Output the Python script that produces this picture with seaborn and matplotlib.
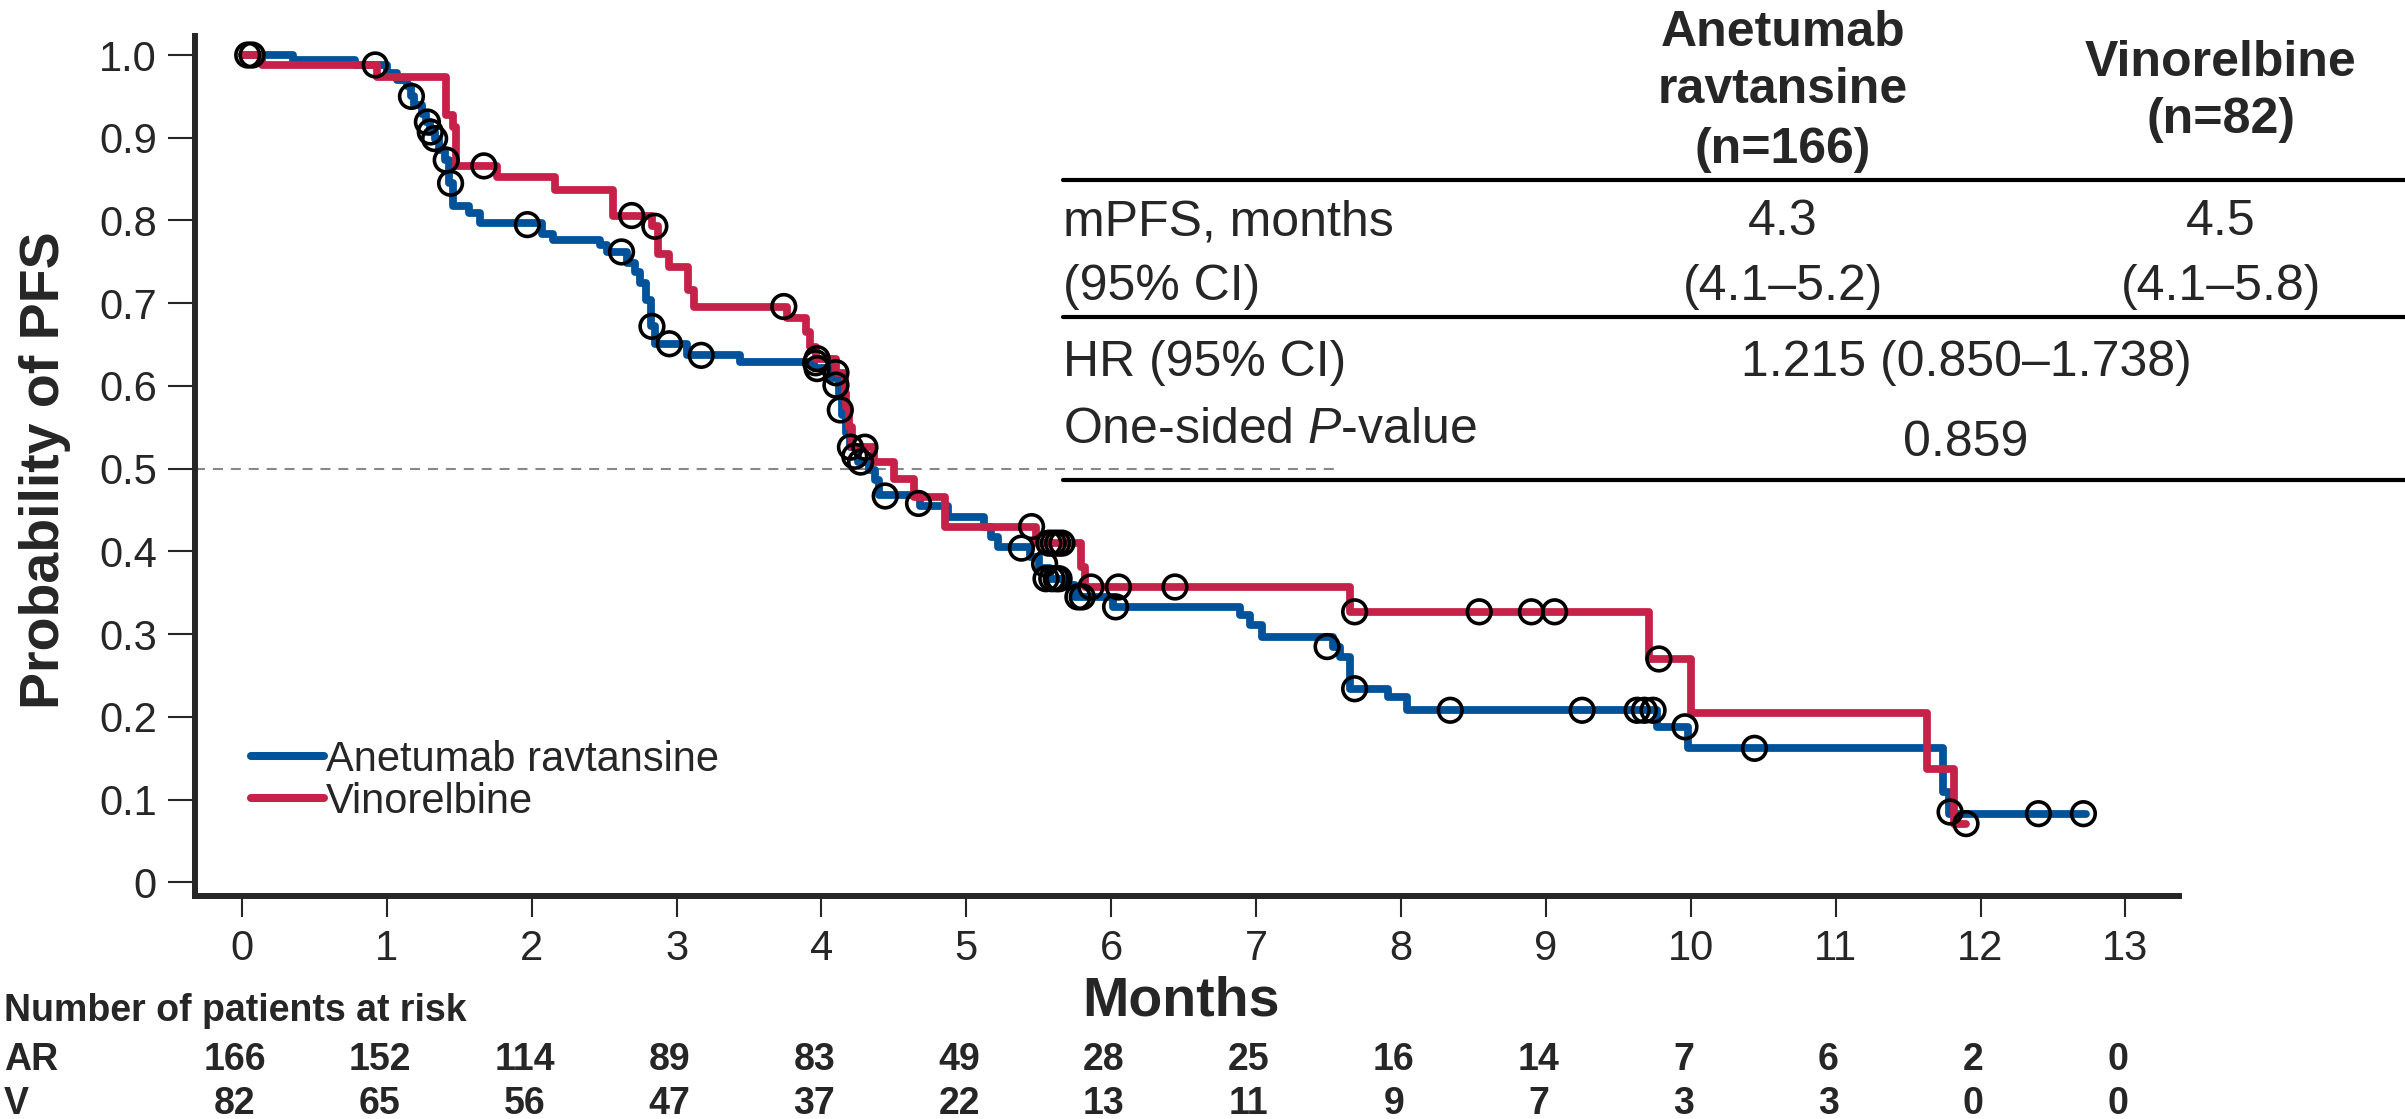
"""
Kaplan-Meier PFS: anetumab ravtansine vs vinorelbine, with a summary table
and the number-at-risk rows under the axis.
"""

import numpy as np
import pandas as pd
import matplotlib
matplotlib.use("Agg")
import matplotlib.pyplot as plt
import matplotlib.transforms as mtransforms
from matplotlib.lines import Line2D
import seaborn as sns

# ── data ─────────────────────────────────────────────────────────────────────

ARMS = ["Anetumab ravtansine", "Vinorelbine"]

# step curves (time in months, survival after each drop)
AR_T = [0, 0.35, 0.78, 1.00, 1.07, 1.14, 1.17, 1.19, 1.24, 1.27,
        1.30, 1.33, 1.36, 1.40, 1.43, 1.46, 1.57, 1.64, 2.07, 2.15,
        2.47, 2.52, 2.66, 2.71, 2.75, 2.79, 2.82, 2.85, 3.07, 3.44,
        3.95, 4.07, 4.12, 4.14, 4.17, 4.20, 4.25, 4.33, 4.37, 4.40,
        4.68, 4.87, 5.12, 5.17, 5.22, 5.44, 5.50, 5.58, 5.69, 5.75,
        6.01, 6.89, 6.96, 7.04, 7.53, 7.58, 7.65, 7.91, 8.04, 9.77,
        9.98, 11.74, 11.78, 12.73]
AR_S = [1.000, 0.994, 0.988, 0.978, 0.970, 0.962, 0.950, 0.940, 0.929, 0.919,
        0.907, 0.899, 0.885, 0.873, 0.845, 0.817, 0.809, 0.797, 0.784, 0.776,
        0.770, 0.762, 0.749, 0.738, 0.724, 0.704, 0.672, 0.651, 0.637, 0.629,
        0.622, 0.610, 0.590, 0.565, 0.543, 0.526, 0.508, 0.498, 0.486, 0.468,
        0.455, 0.442, 0.430, 0.418, 0.405, 0.393, 0.380, 0.367, 0.359, 0.345,
        0.333, 0.323, 0.311, 0.297, 0.284, 0.272, 0.234, 0.224, 0.208, 0.188,
        0.162, 0.109, 0.083, 0.083]

V_T = [0, 0.14, 0.93, 1.41, 1.46, 1.48, 1.76, 2.16, 2.56, 2.83,
       2.87, 2.95, 3.08, 3.12, 3.76, 3.89, 3.92, 3.96, 4.10, 4.16,
       4.17, 4.19, 4.21, 4.36, 4.50, 4.64, 4.85, 5.48, 5.79, 5.82,
       7.65, 9.71, 10.00, 11.63, 11.82, 11.90]
V_S = [1.000, 0.988, 0.973, 0.927, 0.913, 0.866, 0.853, 0.837, 0.806, 0.793,
       0.760, 0.744, 0.716, 0.696, 0.682, 0.665, 0.647, 0.633, 0.616, 0.591,
       0.575, 0.550, 0.526, 0.508, 0.487, 0.466, 0.430, 0.410, 0.381, 0.357,
       0.327, 0.270, 0.205, 0.137, 0.071, 0.071]

# censored observations
AR_CENS_T = [0.04, 0.92, 1.17, 1.28, 1.30, 1.33, 1.41, 1.44, 1.97, 2.62,
             2.83, 2.95, 3.17, 3.96, 3.97, 4.10, 4.13, 4.20, 4.23, 4.27,
             4.44, 4.67, 5.38, 5.54, 5.55, 5.59, 5.62, 5.64, 5.77, 5.80,
             6.03, 7.49, 7.68, 8.34, 9.25, 9.63, 9.68, 9.74, 9.96, 10.44,
             11.79, 12.40, 12.71]
AR_CENS_S = [1.000, 0.988, 0.950, 0.919, 0.907, 0.899, 0.873, 0.845, 0.795, 0.762,
             0.672, 0.651, 0.637, 0.628, 0.621, 0.601, 0.571, 0.526, 0.515, 0.508,
             0.467, 0.458, 0.404, 0.385, 0.367, 0.367, 0.367, 0.367, 0.345, 0.345,
             0.333, 0.285, 0.234, 0.208, 0.208, 0.208, 0.208, 0.208, 0.188, 0.162,
             0.085, 0.083, 0.083]

V_CENS_T = [0.07, 1.67, 2.69, 2.85, 3.74, 3.97, 4.10, 4.30, 5.45, 5.57,
            5.60, 5.63, 5.66, 5.86, 6.05, 6.44, 7.68, 8.54, 8.90, 9.06,
            9.78, 11.90]
V_CENS_S = [1.000, 0.866, 0.806, 0.793, 0.696, 0.633, 0.616, 0.526, 0.430, 0.410,
            0.410, 0.410, 0.410, 0.357, 0.357, 0.357, 0.327, 0.327, 0.327, 0.327,
            0.270, 0.071]

# number at risk
RISK_TIMES = list(range(14))
RISK_AR = [166, 152, 114, 89, 83, 49, 28, 25, 16, 14, 7, 6, 2, 0]
RISK_V = [82, 65, 56, 47, 37, 22, 13, 11, 9, 7, 3, 3, 0, 0]

Y_TICKS = [0, 0.1, 0.2, 0.3, 0.4, 0.5, 0.6, 0.7, 0.8, 0.9, 1.0]
Y_TICKLABELS = ["0", "0.1", "0.2", "0.3", "0.4", "0.5", "0.6", "0.7", "0.8", "0.9", "1.0"]

# summary table
TAB_HEAD = [["Anetumab", "ravtansine", "(n=166)"], ["Vinorelbine", "(n=82)"]]
MPFS = ["4.3", "4.5"]
MPFS_CI = ["(4.1–5.2)", "(4.1–5.8)"]
HR_TXT = "1.215 (0.850–1.738)"
P_TXT = "0.859"

BLUE = "#00539B"
RED = "#C62249"

# ── style ────────────────────────────────────────────────────────────────────

sns.set_style("ticks")
plt.rcParams["font.family"] = ["Liberation Sans", "DejaVu Sans"]
plt.rcParams["mathtext.fontset"] = "custom"
plt.rcParams["mathtext.rm"] = "Liberation Sans"
plt.rcParams["mathtext.it"] = "Liberation Sans:italic"

W, H = 2405, 1119


def fx(px):
    return px / W


def fy(py):
    return 1 - py / H


# ── figure ───────────────────────────────────────────────────────────────────

curves = pd.concat([
    pd.DataFrame({"t": AR_T, "s": AR_S, "arm": ARMS[0]}),
    pd.DataFrame({"t": V_T, "s": V_S, "arm": ARMS[1]}),
])
cens = pd.concat([
    pd.DataFrame({"t": AR_CENS_T, "s": AR_CENS_S}),
    pd.DataFrame({"t": V_CENS_T, "s": V_CENS_S}),
])

fig = plt.figure(figsize=(W / 100, H / 100), dpi=100)
ax = fig.add_axes([fx(195), fy(896), fx(2179) - fx(195), fy(36) - fy(896)])

sns.lineplot(data=curves, x="t", y="s", hue="arm", hue_order=ARMS,
             palette=[BLUE, RED], estimator=None, sort=False,
             drawstyle="steps-post", linewidth=5.6, legend=False, ax=ax)
sns.scatterplot(data=cens, x="t", y="s", marker="o", s=290,
                facecolors="none", edgecolor="black", linewidth=2.6,
                legend=False, zorder=4, ax=ax)

# median reference line
ax.axhline(0.5, xmin=0, xmax=0.574, color="#888888", lw=1.5,
           linestyle=(0, (4.8, 3.8)), zorder=1)

ax.set_xlim(-0.324, 13.37)
ax.set_ylim(-0.0165, 1.023)
ax.set_xticks(RISK_TIMES)
ax.set_xticklabels([str(t) for t in RISK_TIMES])
ax.set_yticks(Y_TICKS)
ax.set_yticklabels(Y_TICKLABELS)
ax.set_xlabel("")
ax.set_ylabel("")
ax.tick_params(axis="y", length=19.5, width=1.5, pad=8, labelsize=30)
ax.tick_params(axis="x", length=14.8, width=1.5, pad=9, labelsize=30)
sns.despine(ax=ax)
for side in ("left", "bottom"):
    ax.spines[side].set_linewidth(4.3)

handles = [Line2D([], [], color=c, lw=5.8) for c in (BLUE, RED)]
ax.legend(handles, ARMS, loc="upper left", bbox_to_anchor=(fx(251), fy(740)),
          bbox_transform=fig.transFigure, frameon=False, fontsize=30,
          handlelength=1.75, handletextpad=0.05, labelspacing=0.05,
          borderpad=0, borderaxespad=0)

fig.text(fx(45), fy(470), "Probability of PFS", rotation=90, ha="center",
         va="center", fontsize=40, fontweight="bold")
fig.text(fx(1181), fy(1002), "Months", ha="center", va="center",
         fontsize=40, fontweight="bold")

# number at risk rows
risk_tf = mtransforms.blended_transform_factory(ax.transData, fig.transFigure)
fig.text(fx(4), fy(1011), "Number of patients at risk", ha="left", va="center",
         fontsize=27, fontweight="bold")
for label, counts, ypx in (("AR", RISK_AR, 1060), ("V", RISK_V, 1104)):
    fig.text(fx(4), fy(ypx), label, ha="left", va="center",
             fontsize=27, fontweight="bold")
    for t, n in zip(RISK_TIMES, counts):
        ax.text(t - 0.05, fy(ypx), str(n), transform=risk_tf, ha="center",
                va="center", fontsize=27, fontweight="bold")

# summary table
for ypx in (180, 317, 480):
    fig.add_artist(Line2D([fx(1063), 1.0], [fy(ypx), fy(ypx)], color="black",
                          lw=3, transform=fig.transFigure))

for lines, xpx, ys in ((TAB_HEAD[0], 1783, (33, 90, 150)),
                       (TAB_HEAD[1], 2221, (63, 120))):
    for txt, ypx in zip(lines, ys):
        fig.text(fx(xpx), fy(ypx), txt, ha="center", va="center",
                 fontsize=36, fontweight="bold")

fig.text(fx(1063), fy(222), "mPFS, months", ha="left", va="center", fontsize=36)
fig.text(fx(1063), fy(287), "(95% CI)", ha="left", va="center", fontsize=36)
for xpx, m, ci in zip((1783, 2221), MPFS, MPFS_CI):
    fig.text(fx(xpx), fy(222), m, ha="center", va="center", fontsize=36)
    fig.text(fx(xpx), fy(287), ci, ha="center", va="center", fontsize=36)
fig.text(fx(1063), fy(363), "HR (95% CI)", ha="left", va="center", fontsize=36)
fig.text(fx(1966), fy(363), HR_TXT, ha="center", va="center", fontsize=36)
fig.text(fx(1063), fy(430), "One-sided $P$-value", ha="left", va="center",
         fontsize=36)
fig.text(fx(1966), fy(443), P_TXT, ha="center", va="center", fontsize=36)

fig.savefig("out.png", dpi=100, facecolor="white")
plt.close(fig)
